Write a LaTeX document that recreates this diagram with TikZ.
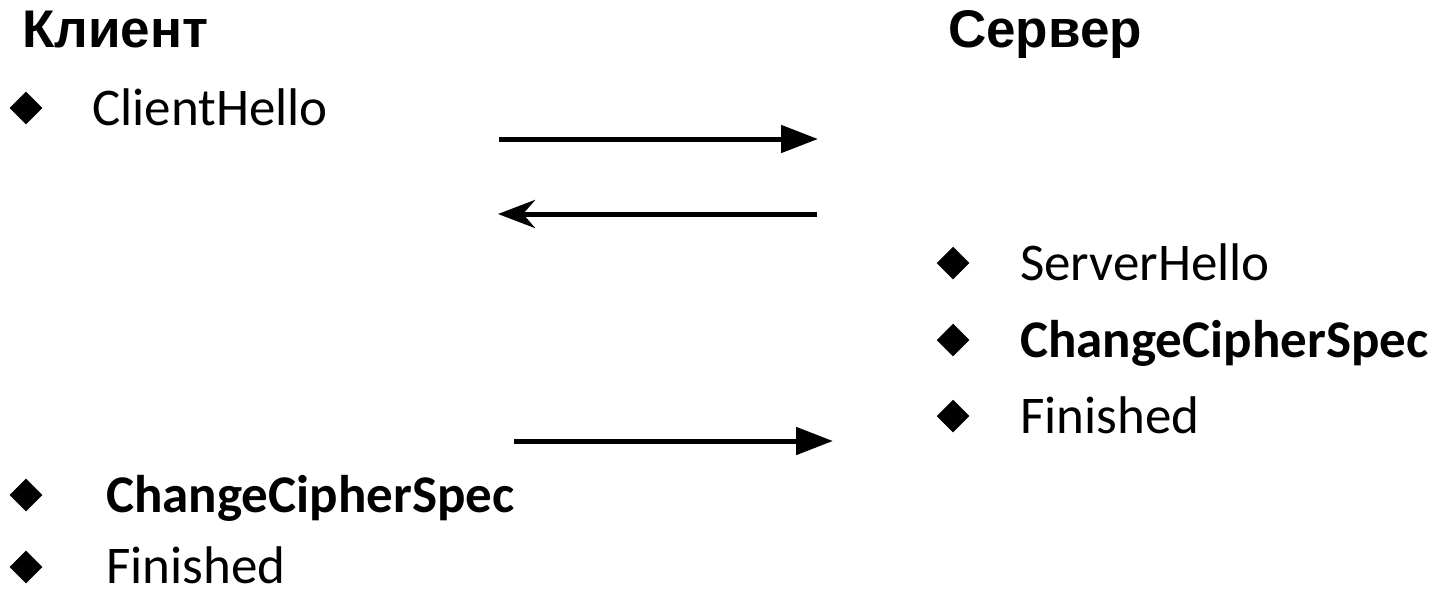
\documentclass[tikz,border=0pt]{standalone}
\usepackage{fontspec}
\setmainfont{Carlito}
\newfontfamily\titlefont{Liberation Sans}
\usetikzlibrary{arrows.meta}

\begin{document}
\begin{tikzpicture}[x=1pt,y=-1pt,
  titre/.style={anchor=base west,inner sep=0,font=\titlefont\bfseries\fontsize{53}{58}\selectfont},
  item/.style={anchor=base west,inner sep=0,font=\fontsize{53}{60}\selectfont},
  puce/.style={fill=black,rotate=45,inner sep=0,minimum size=23pt},
  fleche/.style={line width=5pt}]
\useasboundingbox (0,0) rectangle (1436,590);
% titres
\node[titre] (client) at (22,47) {Клиент};
\node[titre] (serveur) at (948,47) {Сервер};
% client
\node[puce] (p1) at (26,108) {};
\node[item] (hello1) at (92,125) {ClientHello};
\node[puce] (p2) at (26,495) {};
\node[item] (ccs1) at (106,512) {\bfseries ChangeCipherSpec};
\node[puce] (p3) at (26,567) {};
\node[item] (fin1) at (106,583) {Finished};
% serveur
\node[puce] (p4) at (953,263) {};
\node[item] (hello2) at (1020,280) {ServerHello};
\node[puce] (p5) at (953,340) {};
\node[item] (ccs2) at (1020,357) {\bfseries ChangeCipherSpec};
\node[puce] (p6) at (953,416) {};
\node[item] (fin2) at (1020,433) {Finished};
% fleches
\coordinate (a1) at (499,139);
\coordinate (b1) at (818,139);
\coordinate (a2) at (817,214);
\coordinate (b2) at (498,214);
\coordinate (a3) at (514,441);
\coordinate (b3) at (833,441);
\draw [fleche,-{Triangle[length=37pt,width=27pt]}] (a1)--(b1);
\draw [fleche,-{Stealth[length=37pt,width=28pt,inset=12pt]}] (a2)--(b2);
\draw [fleche,-{Triangle[length=37pt,width=27pt]}] (a3)--(b3);
\end{tikzpicture}
\end{document}
